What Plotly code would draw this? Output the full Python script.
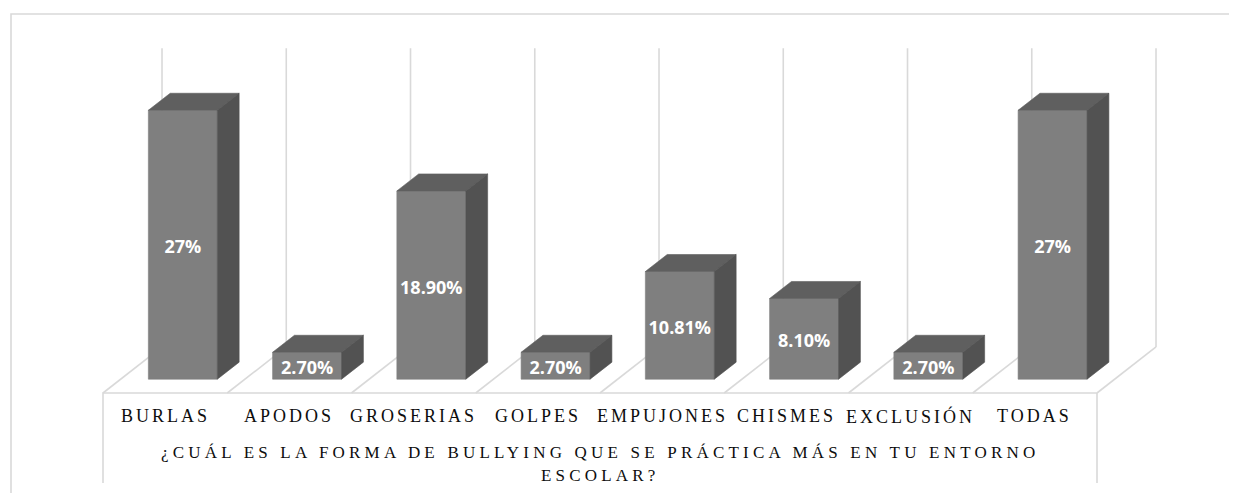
import plotly.graph_objects as go

# chart data
categories = ['BURLAS', 'APODOS', 'GROSERIAS', 'GOLPES', 'EMPUJONES',
              'CHISMES', 'EXCLUSIÓN', 'TODAS']
values = [27, 2.70, 18.90, 2.70, 10.81, 8.10, 2.70, 27]
value_labels = ['27%', '2.70%', '18.90%', '2.70%', '10.81%', '8.10%', '2.70%', '27%']
axis_title = ['¿CUÁL ES LA FORMA DE BULLYING QUE SE PRÁCTICA MÁS EN TU ENTORNO',
              'ESCOLAR?']
y_max = 30

# oblique 3d look: full depth shifts right by DX (category units) and up by DY (% units)
DX, DY = 0.475, 4.62
D_FRONT, D_BACK = 0.30, 0.67
BAR_W = 0.555

# page body has an 8px margin, so the figure is a bit smaller than the window
W, H = 1229, 485
PX_X = 124.25          # pixels per category
PX_Y = 9.96            # pixels per percent
X0_PX, Y0_PX = 95, 385

x_range = [-X0_PX / PX_X, (W - X0_PX) / PX_X]
y_range = [(Y0_PX - H) / PX_Y, Y0_PX / PX_Y]

GRID = '#d9d9d9'
FRONT, TOP, SIDE = '#7f7f7f', '#5f5f5f', '#525252'
SERIF = 'Liberation Serif, Times New Roman, serif'
INK = '#0d0d0d'


def proj(x, y, d):
    return x + d * DX, y + d * DY


def poly(points, color):
    xs, ys = zip(*[proj(*p) for p in points])
    return go.Scatter(
        x=list(xs) + [xs[0]], y=list(ys) + [ys[0]],
        mode='lines', fill='toself', fillcolor=color,
        line=dict(color=color, width=0.6),
        hoverinfo='skip', showlegend=False,
    )


def spaced(text, ls):
    return f'<span style="letter-spacing:{ls}px">{text}</span>'


n = len(categories)
data = []

# back wall separators
for i in range(n + 1):
    xs, ys = zip(proj(i, 0, 1), proj(i, y_max, 1))
    data.append(go.Scatter(x=xs, y=ys, mode='lines',
                           line=dict(color=GRID, width=1.6),
                           hoverinfo='skip', showlegend=False))

# floor: diagonals + front edge + box sides
for i in range(n + 1):
    xs, ys = zip(proj(i, 0, 0), proj(i, 0, 1))
    data.append(go.Scatter(x=xs, y=ys, mode='lines',
                           line=dict(color=GRID, width=1.6),
                           hoverinfo='skip', showlegend=False))
box_bottom = -90 / PX_Y
data.append(go.Scatter(
    x=[0, 0, n, n], y=[box_bottom, 0, 0, box_bottom], mode='lines',
    line=dict(color=GRID, width=1.6), hoverinfo='skip', showlegend=False))

# bars
for i, v in enumerate(values):
    xl = i + 0.5 - BAR_W / 2
    xr = i + 0.5 + BAR_W / 2
    data.append(poly([(xl, 0, D_FRONT), (xr, 0, D_FRONT),
                      (xr, v, D_FRONT), (xl, v, D_FRONT)], FRONT))
    data.append(poly([(xl, v, D_FRONT), (xr, v, D_FRONT),
                      (xr, v, D_BACK), (xl, v, D_BACK)], TOP))
    data.append(poly([(xr, 0, D_FRONT), (xr, 0, D_BACK),
                      (xr, v, D_BACK), (xr, v, D_FRONT)], SIDE))

# value labels on the bar fronts (nudged down a few px, like the original)
lx, ly = zip(*[proj(i + 0.5, v / 2 - 4 / PX_Y, D_FRONT) for i, v in enumerate(values)])
data.append(go.Scatter(
    x=lx, y=ly, mode='text', text=value_labels,
    textfont=dict(family='Open Sans', size=18, color='white', weight='bold'),
    hoverinfo='skip', showlegend=False,
))

fig = go.Figure(data=data)

annotations = []
for i, c in enumerate(categories):
    annotations.append(dict(
        x=i + 0.5, y=0, xref='x', yref='y', yshift=-23,
        text=spaced(c, 3), showarrow=False, yanchor='middle',
        font=dict(family=SERIF, size=18, color=INK),
    ))
for k, line in enumerate(axis_title):
    annotations.append(dict(
        x=n / 2, y=0, xref='x', yref='y', yshift=-59 - 23 * k,
        text=spaced(line, 4.2), showarrow=False, yanchor='middle',
        font=dict(family=SERIF, size=17, color=INK),
    ))

fig.update_layout(
    width=W, height=H,
    margin=dict(l=0, r=0, t=0, b=0),
    plot_bgcolor='white', paper_bgcolor='white',
    xaxis=dict(range=x_range, visible=False, fixedrange=True),
    yaxis=dict(range=y_range, visible=False, fixedrange=True),
    annotations=annotations,
    shapes=[dict(
        type='rect', xref='paper', yref='paper',
        x0=3 / W, x1=1.01, y0=-0.02, y1=1 - 6 / H,
        line=dict(color=GRID, width=1.6), layer='below',
    )],
)

fig.write_html('out.html')
